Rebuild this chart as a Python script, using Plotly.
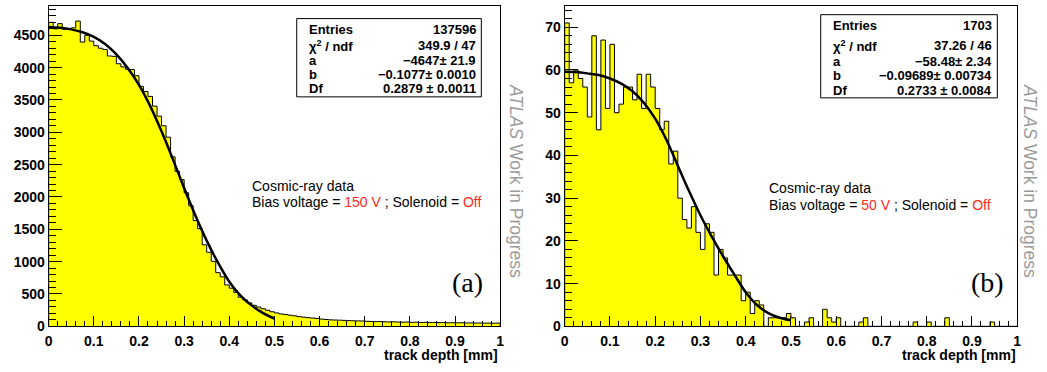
import numpy as np
import plotly.graph_objects as go

# ---------------- data ----------------
bin_edges = np.round(np.arange(101) * 0.01, 2)   # 100 bins, 0..1 mm

counts_150V = [
    4700, 4600, 4680, 4595, 4600, 4615, 4720, 4395, 4500, 4410,
    4340, 4300, 4280, 4180, 4175, 4060, 4010, 3975, 3970, 3875,
    3710, 3630, 3555, 3405, 3250, 3100, 2925, 2620, 2395, 2270,
    2065, 1865, 1635, 1510, 1260, 1145, 1005, 830, 765, 640,
    590, 525, 450, 409, 362, 325, 298, 272, 248, 225,
    207, 192, 182, 172, 162, 150, 142, 134, 128, 121,
    112, 106, 100, 97, 95, 92, 88, 86, 84, 82,
    78, 75, 72, 74, 70, 68, 70, 66, 64, 66,
    62, 64, 60, 62, 58, 60, 57, 58, 55, 56,
    54, 55, 52, 53, 50, 52, 49, 50, 48, 50,
]

counts_50V = [
    71, 57, 60, 58, 56, 49, 68, 46, 67, 51,
    66, 50, 52, 56, 56, 53, 59, 51, 59, 56,
    51, 46, 48, 38, 41, 30, 25, 23, 28, 22,
    18, 24, 22, 12, 18, 16, 12, 12, 12, 6,
    8, 3, 6, 5, 0, 2, 2, 2, 2, 3,
    2, 0, 0, 1, 2, 0, 0, 4, 2, 1,
    2, 0, 0, 0, 0, 1, 2, 0, 0, 0,
    0, 0, 0, 0, 0, 0, 0, 1, 0, 0,
    1, 0, 0, 0, 2, 0, 0, 0, 0, 0,
    0, 0, 0, 0, 1, 0, 0, 0, 0, 0,
]

fit_x = [0.0, 0.025, 0.05, 0.075, 0.1, 0.125, 0.15, 0.175, 0.2, 0.225, 0.25,
         0.275, 0.3, 0.325, 0.35, 0.375, 0.4, 0.425, 0.45, 0.475, 0.5]
fit_150V = [4630, 4618, 4592, 4548, 4475, 4365, 4205, 3995, 3735, 3405, 3015,
            2585, 2140, 1715, 1325, 985, 690, 475, 320, 205, 121]
fit_50V = [59.6, 59.5, 59.2, 58.8, 58.0, 56.8, 55.0, 52.3, 48.6, 43.6, 37.6,
           31.6, 26.0, 21.0, 16.4, 12.1, 8.0, 5.0, 3.1, 2.0, 1.4]

stats_labels = ["Entries", "χ<sup>2</sup> / ndf", "a", "b", "Df"]
stats_150V = ["137596", "349.9 / 47", "−4647± 21.9", "−0.1077± 0.0010", "0.2879 ± 0.0011"]
stats_50V = ["1703", "37.26 / 46", "−58.48± 2.34", "−0.09689± 0.00734", "0.2733 ± 0.0084"]

y_max_150V = 4955
y_max_50V = 75.0

# ---------------- figure ----------------
W, H = 1047, 372
RED = "#ff2a1a"
GREY = "#9a9a9a"
SANS = "Liberation Sans"


def px(x):
    return x / W


def py(y):
    return 1 - y / H


def step_path(counts):
    xs = [float(bin_edges[0])]
    ys = [0]
    for i, c in enumerate(counts):
        xs.append(float(bin_edges[i]))
        ys.append(c)
    xs.append(float(bin_edges[-1]))
    ys.append(0)
    return xs, ys


fig = go.Figure()

for counts, fit, xa, ya in [(counts_150V, fit_150V, "x", "y"),
                            (counts_50V, fit_50V, "x2", "y2")]:
    sx, sy = step_path(counts)
    fig.add_trace(go.Scatter(x=sx, y=sy, mode="lines", xaxis=xa, yaxis=ya,
                             line=dict(shape="hv", color="black", width=1),
                             fill="tozeroy", fillcolor="#ffff00",
                             hoverinfo="skip"))
    fig.add_trace(go.Scatter(x=fit_x, y=fit, mode="lines", xaxis=xa, yaxis=ya,
                             line=dict(shape="spline", color="black", width=2.5),
                             hoverinfo="skip"))

tickfont = dict(family=SANS, size=14, color="black", weight="bold")

xcommon = dict(range=[0, 1], tick0=0, dtick=0.1, ticks="inside", ticklen=10,
               tickwidth=1, tickcolor="black", showline=True, linecolor="black",
               linewidth=1, mirror=True, showgrid=False, zeroline=False,
               tickfont=tickfont, ticklabelstandoff=2,
               minor=dict(dtick=0.02, ticks="inside", ticklen=5, tickcolor="black"))

ydom = [38.5 / H, 366 / H]

fig.update_layout(
    width=W, height=H,
    margin=dict(l=0, r=0, t=0, b=0),
    paper_bgcolor="white", plot_bgcolor="white",
    showlegend=False,
    xaxis=dict(domain=[px(45), px(500)], anchor="y", **xcommon),
    xaxis2=dict(domain=[px(565), px(1021)], anchor="y2", **xcommon),
    yaxis=dict(domain=ydom, anchor="x", range=[0, y_max_150V], tick0=0, dtick=500,
               tickformat="d", ticks="inside", ticklen=13, tickwidth=1,
               tickcolor="black", showline=True, linecolor="black", linewidth=1,
               mirror=True, showgrid=False, zeroline=False, tickfont=tickfont,
               minor=dict(dtick=100, ticks="inside", ticklen=7, tickcolor="black")),
    yaxis2=dict(domain=ydom, anchor="x2", range=[0, y_max_50V], tick0=0, dtick=10,
                tickformat="d", ticks="inside", ticklen=13, tickwidth=1,
                tickcolor="black", showline=True, linecolor="black", linewidth=1,
                mirror=True, showgrid=False, zeroline=False, tickfont=tickfont,
                minor=dict(dtick=2, ticks="inside", ticklen=7, tickcolor="black")),
)

shapes = []
annotations = []

# stats boxes
panels = [
    dict(box=(295, 19, 481, 99), lab_x=305, val_x=478,
         rows=[30, 46.5, 61.5, 76, 90.5], vals=stats_150V),
    dict(box=(823, 15, 1001, 100), lab_x=833, val_x=998,
         rows=[26.5, 46.5, 62.5, 77, 92.5], vals=stats_50V),
]
statfont = dict(family=SANS, size=13, color="black", weight="bold")
for p in panels:
    x0, y0, x1, y1 = p["box"]
    shapes.append(dict(type="rect", xref="paper", yref="paper",
                       x0=px(x0), x1=px(x1), y0=py(y1), y1=py(y0),
                       line=dict(color="black", width=1), fillcolor="white",
                       layer="above"))
    for lab, val, yy in zip(stats_labels, p["vals"], p["rows"]):
        annotations.append(dict(xref="paper", yref="paper", x=px(p["lab_x"]), y=py(yy),
                                xanchor="left", yanchor="middle", text=lab,
                                showarrow=False, font=statfont))
        annotations.append(dict(xref="paper", yref="paper", x=px(p["val_x"]), y=py(yy),
                                xanchor="right", yanchor="middle", text=val,
                                showarrow=False, font=statfont))

textfont = dict(family=SANS, size=14, color="black")
for x0, volt, y_a, y_b in [(248, "150 V", 190, 206.5), (769, "50 V", 192.5, 209)]:
    annotations.append(dict(xref="paper", yref="paper", x=px(x0), y=py(y_a),
                            xanchor="left", yanchor="middle", text="Cosmic-ray data",
                            showarrow=False, font=textfont))
    annotations.append(dict(xref="paper", yref="paper", x=px(x0), y=py(y_b),
                            xanchor="left", yanchor="middle",
                            text=f"Bias voltage = <span style='color:{RED}'>{volt}</span>"
                                 f" ; Solenoid = <span style='color:{RED}'>Off</span>",
                            showarrow=False, font=textfont))

# panel tags
for tag, xc in [("(a)", 467), ("(b)", 991)]:
    annotations.append(dict(xref="paper", yref="paper", x=px(xc), y=py(289),
                            xanchor="center", yanchor="middle", text=tag,
                            showarrow=False,
                            font=dict(family="Liberation Serif", size=28, color="black")))

# x axis titles
for xr in [499, 1021]:
    annotations.append(dict(xref="paper", yref="paper", x=px(xr), y=0,
                            xanchor="right", yanchor="bottom", text="track depth [mm]",
                            showarrow=False, borderpad=0,
                            font=dict(family=SANS, size=14, color="black", weight="bold")))

# ATLAS labels (vertical)
for xc in [516, 1034]:
    annotations.append(dict(xref="paper", yref="paper", x=px(xc), y=py(185),
                            xanchor="center", yanchor="middle",
                            text="<i>ATLAS</i> Work in Progress", textangle=90,
                            showarrow=False,
                            font=dict(family=SANS, size=17.5, color=GREY)))

fig.update_layout(shapes=shapes, annotations=annotations)
fig.write_html("out.html")
